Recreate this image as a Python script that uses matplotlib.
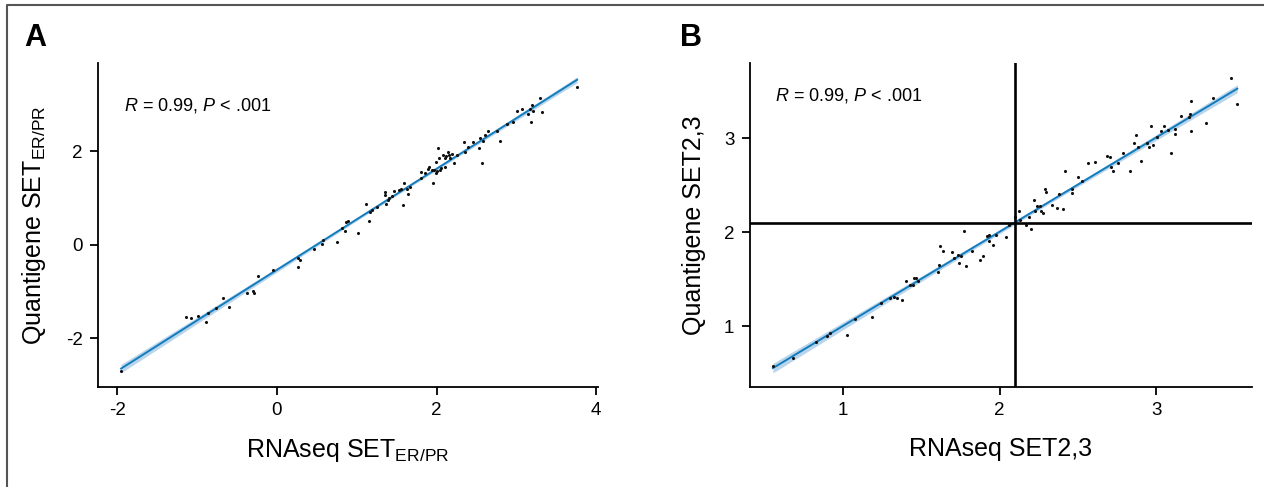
import numpy as np
import matplotlib
matplotlib.use("Agg")
import matplotlib.pyplot as plt
from matplotlib.lines import Line2D

plt.rcParams['font.family'] = ['Liberation Sans', 'DejaVu Sans']
plt.rcParams['mathtext.fontset'] = 'custom'
plt.rcParams['mathtext.rm'] = 'Liberation Sans'
plt.rcParams['mathtext.it'] = 'Liberation Sans:italic'
plt.rcParams['axes.unicode_minus'] = False

# panel A: SET ER/PR
x_a = [-1.95, -1.14, -1.08, -0.99, -0.89, -0.86, -0.76, -0.67, -0.60, -0.37,
       -0.30, -0.28, -0.23, -0.05, 0.26, 0.29, 0.27, 0.46, 0.56, 0.58,
       0.75, 0.81, 0.85, 0.87, 0.89, 1.02, 1.12, 1.16, 1.17, 1.19,
       1.25, 1.35, 1.35, 1.37, 1.39, 1.41, 1.44, 1.47, 1.53, 1.56,
       1.58, 1.59, 1.63, 1.64, 1.67, 1.81, 1.81, 1.86, 1.89, 1.91,
       1.94, 1.95, 1.97, 1.99, 1.99, 2.00, 2.02, 2.03, 2.04, 2.06,
       2.08, 2.10, 2.11, 2.12, 2.14, 2.16, 2.17, 2.19, 2.22, 2.25,
       2.34, 2.35, 2.39, 2.46, 2.53, 2.54, 2.57, 2.58, 2.61, 2.65,
       2.76, 2.80, 2.88, 2.96, 3.01, 3.07, 3.15, 3.17, 3.19, 3.18,
       3.21, 3.29, 3.32, 3.76]
y_a = [-2.69, -1.54, -1.57, -1.52, -1.65, -1.45, -1.34, -1.13, -1.32, -1.02,
       -0.99, -1.03, -0.67, -0.53, -0.29, -0.32, -0.47, -0.09, 0.02, 0.11,
       0.07, 0.37, 0.29, 0.49, 0.52, 0.25, 0.87, 0.51, 0.70, 0.74,
       0.80, 1.13, 1.06, 0.88, 0.95, 1.00, 1.05, 1.15, 1.17, 1.19,
       0.85, 1.33, 1.19, 1.08, 1.24, 1.55, 1.42, 1.54, 1.63, 1.67,
       1.59, 1.33, 1.61, 1.78, 1.53, 1.58, 2.08, 1.86, 1.60, 1.65,
       1.92, 1.85, 1.67, 1.90, 1.98, 1.92, 1.85, 1.94, 1.74, 1.92,
       2.19, 1.98, 2.10, 2.19, 2.08, 2.28, 1.74, 2.22, 2.35, 2.44,
       2.44, 2.21, 2.58, 2.62, 2.87, 2.91, 2.80, 2.91, 2.98, 2.62,
       2.85, 3.13, 2.84, 3.37]

# panel B: SET2,3
x_b = [0.554, 0.679, 0.826, 0.896, 0.917, 1.026, 1.078, 1.184, 1.246, 1.301,
       1.324, 1.345, 1.378, 1.402, 1.430, 1.448, 1.456, 1.469, 1.479, 1.604,
       1.611, 1.617, 1.637, 1.699, 1.707, 1.733, 1.738, 1.754, 1.775, 1.785,
       1.824, 1.878, 1.896, 1.920, 1.930, 1.935, 1.961, 1.974, 2.039, 2.062,
       2.096, 2.122, 2.127, 2.166, 2.187, 2.199, 2.218, 2.225, 2.238, 2.256,
       2.267, 2.277, 2.290, 2.295, 2.337, 2.368, 2.376, 2.402, 2.420, 2.459,
       2.464, 2.497, 2.523, 2.567, 2.609, 2.684, 2.705, 2.710, 2.725, 2.756,
       2.788, 2.829, 2.860, 2.873, 2.886, 2.904, 2.940, 2.956, 2.964, 2.977,
       3.003, 3.028, 3.049, 3.075, 3.093, 3.117, 3.119, 3.158, 3.205, 3.215,
       3.218, 3.223, 3.319, 3.360, 3.474, 3.516]
y_b = [0.578, 0.656, 0.832, 0.896, 0.921, 0.903, 1.079, 1.100, 1.249, 1.295,
       1.312, 1.302, 1.273, 1.478, 1.432, 1.432, 1.513, 1.513, 1.478, 1.573,
       1.647, 1.855, 1.795, 1.785, 1.725, 1.760, 1.672, 1.750, 2.007, 1.637,
       1.795, 1.707, 1.742, 1.954, 1.968, 1.901, 1.866, 1.968, 1.944, 2.078,
       2.159, 2.219, 2.131, 2.071, 2.159, 2.035, 2.342, 2.219, 2.272, 2.279,
       2.226, 2.201, 2.455, 2.430, 2.289, 2.254, 2.402, 2.243, 2.653, 2.420,
       2.455, 2.589, 2.547, 2.737, 2.748, 2.808, 2.794, 2.688, 2.649, 2.730,
       2.843, 2.653, 2.942, 3.030, 2.907, 2.755, 2.942, 2.907, 3.125, 2.924,
       3.012, 3.072, 3.125, 3.090, 2.843, 3.048, 3.101, 3.235, 3.224, 3.259,
       3.072, 3.390, 3.160, 3.429, 3.637, 3.358]

line_col = '#137cbd'
band_col = '#a9cbe6'


def reg_panel(ax, x, y):
    x = np.asarray(x)
    y = np.asarray(y)
    b1, b0 = np.polyfit(x, y, 1)
    xs = np.linspace(x.min(), x.max(), 100)
    fit = b0 + b1 * xs
    n = len(x)
    resid = y - (b0 + b1 * x)
    s = np.sqrt(np.sum(resid ** 2) / (n - 2))
    se = s * np.sqrt(1.0 / n + (xs - x.mean()) ** 2 / np.sum((x - x.mean()) ** 2))
    ax.fill_between(xs, fit - 1.98 * se, fit + 1.98 * se, color=band_col,
                    alpha=0.8, lw=0, zorder=2)
    ax.plot(xs, fit, color=line_col, lw=1.4, zorder=3)
    ax.scatter(x, y, s=5, color='#111111', lw=0, zorder=4)


def style(ax):
    for sp in ['top', 'right']:
        ax.spines[sp].set_visible(False)
    for sp in ['left', 'bottom']:
        ax.spines[sp].set_linewidth(1.3)
    ax.tick_params(direction='out', length=6, width=1.3, labelsize=13.5, pad=5)


fig = plt.figure(figsize=(12.64, 4.87), dpi=100)

axA = fig.add_axes([0.0775, 0.205, 0.3955, 0.666])
reg_panel(axA, x_a, y_a)
style(axA)
axA.set_xlim(-2.24, 4.02)
axA.set_ylim(-3.04, 3.89)
axA.set_xticks([-2, 0, 2, 4])
axA.set_yticks([-2, 0, 2])
axA.set_xlabel(r'RNAseq SET$_{\mathrm{ER/PR}}$', fontsize=18, labelpad=13)
axA.set_ylabel(r'Quantigene SET$_{\mathrm{ER/PR}}$', fontsize=18, labelpad=13)
axA.text(0.053, 0.867, r'$\mathit{R}$ = 0.99, $\mathit{P}$ < .001',
         transform=axA.transAxes, fontsize=13, va='center', ha='left')

axB = fig.add_axes([0.593, 0.205, 0.3975, 0.666])
reg_panel(axB, x_b, y_b)
style(axB)
axB.axvline(2.1, color='black', lw=1.9, zorder=5)
axB.axhline(2.1, color='black', lw=1.9, zorder=5)
axB.set_xlim(0.405, 3.61)
axB.set_ylim(0.35, 3.80)
axB.set_xticks([1, 2, 3])
axB.set_yticks([1, 2, 3])
axB.set_xlabel('RNAseq SET2,3', fontsize=18, labelpad=13)
axB.set_ylabel('Quantigene SET2,3', fontsize=18, labelpad=13)
axB.text(0.051, 0.898, r'$\mathit{R}$ = 0.99, $\mathit{P}$ < .001',
         transform=axB.transAxes, fontsize=13, va='center', ha='left')

fig.text(0.019, 0.922, 'A', fontsize=22, fontweight='bold', va='center')
fig.text(0.538, 0.922, 'B', fontsize=22, fontweight='bold', va='center')

# frame around the figure (top and left edges visible)
fig.add_artist(Line2D([0.0055, 0.0055, 1.0], [0.0, 0.99, 0.99],
                      transform=fig.transFigure, color='#555555', lw=1.5))

fig.savefig('out.png', dpi=100)
